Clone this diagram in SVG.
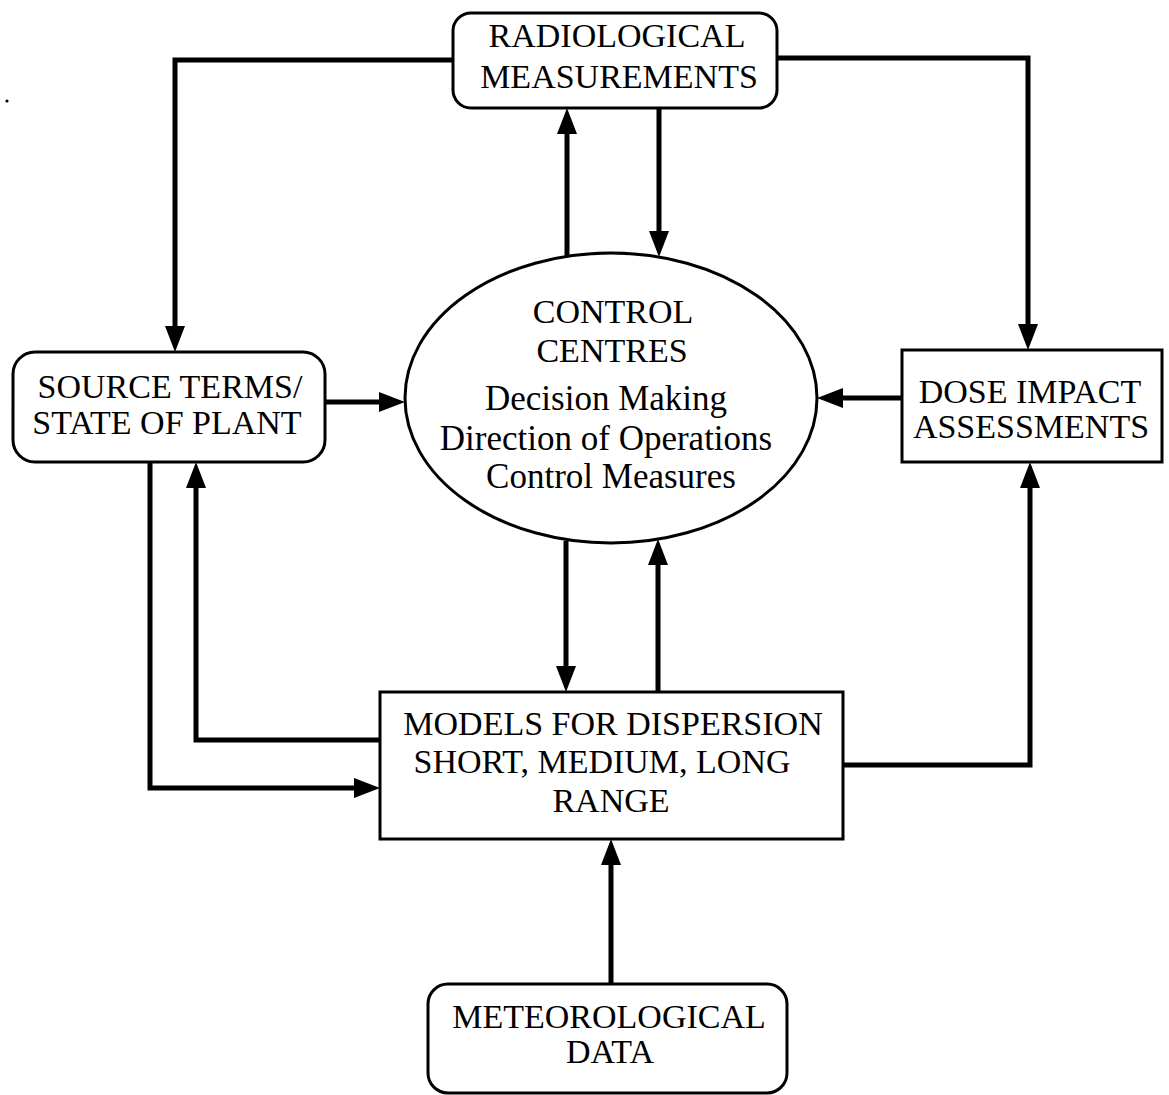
<svg xmlns="http://www.w3.org/2000/svg" width="1169" height="1095" viewBox="0 0 1169 1095">
<style>
  .box { fill: #fff; stroke: #000; stroke-width: 3; }
  .t { font-family: "Liberation Serif", "Times New Roman", serif; font-size: 34px; fill: #000; text-anchor: middle; }
  .t2 { font-family: "Liberation Serif", "Times New Roman", serif; font-size: 35px; fill: #000; text-anchor: middle; }
  .c { fill: none; stroke: #000; stroke-width: 5; stroke-linejoin: miter; }
  .ca { fill: none; stroke: #000; stroke-width: 5; stroke-linejoin: miter; marker-end: url(#ah); }
</style>
<defs>
  <marker id="ah" markerUnits="userSpaceOnUse" markerWidth="26" markerHeight="20" refX="14" refY="10" orient="auto">
    <path d="M0,0 L26,10 L0,20 z" fill="#000"/>
  </marker>
</defs>
<rect width="1169" height="1095" fill="#fff"/>
<circle cx="7" cy="101" r="1.6" fill="#000"/>

<g id="connectors">
  <path class="ca" d="M453,60 H175 V340"/>
  <path class="ca" d="M777,58 H1028 V338"/>
  <path class="ca" d="M325,402 H393"/>
  <path class="ca" d="M902,398 H829"/>
  <path class="ca" d="M567,258 V120"/>
  <path class="ca" d="M659,108 V245"/>
  <path class="ca" d="M566,541 V680"/>
  <path class="ca" d="M658,692 V551"/>
  <path class="ca" d="M380,740 H196 V474"/>
  <path class="ca" d="M150,462 V788 H368"/>
  <path class="ca" d="M843,765 H1030 V474"/>
  <path class="ca" d="M611,984 V851"/>
</g>

<g id="radiological">
  <rect class="box" x="453" y="13" width="324" height="95" rx="18"/>
  <text class="t" x="617" y="47">RADIOLOGICAL</text>
  <text class="t" x="619" y="88">MEASUREMENTS</text>
</g>

<g id="source">
  <rect class="box" x="13" y="352" width="312" height="110" rx="22"/>
  <text class="t" x="170" y="398">SOURCE TERMS/</text>
  <text class="t" x="167" y="434">STATE OF PLANT</text>
</g>

<g id="control">
  <ellipse class="box" cx="611" cy="398" rx="206" ry="145"/>
  <text class="t" x="613" y="323">CONTROL</text>
  <text class="t" x="612" y="362">CENTRES</text>
  <text class="t2" x="606" y="410">Decision Making</text>
  <text class="t2" x="606" y="450">Direction of Operations</text>
  <text class="t2" x="611" y="488">Control Measures</text>
</g>

<g id="dose">
  <rect class="box" x="902" y="350" width="260" height="112"/>
  <text class="t" x="1030" y="403">DOSE IMPACT</text>
  <text class="t" x="1031" y="438">ASSESSMENTS</text>
</g>

<g id="models">
  <rect class="box" x="380" y="692" width="463" height="147"/>
  <text class="t" x="613" y="735">MODELS FOR DISPERSION</text>
  <text class="t" x="602" y="773">SHORT, MEDIUM, LONG</text>
  <text class="t" x="611" y="812">RANGE</text>
</g>

<g id="meteorological">
  <rect class="box" x="428" y="984" width="359" height="109" rx="20"/>
  <text class="t" x="609" y="1028">METEOROLOGICAL</text>
  <text class="t" x="610" y="1063">DATA</text>
</g>
</svg>
